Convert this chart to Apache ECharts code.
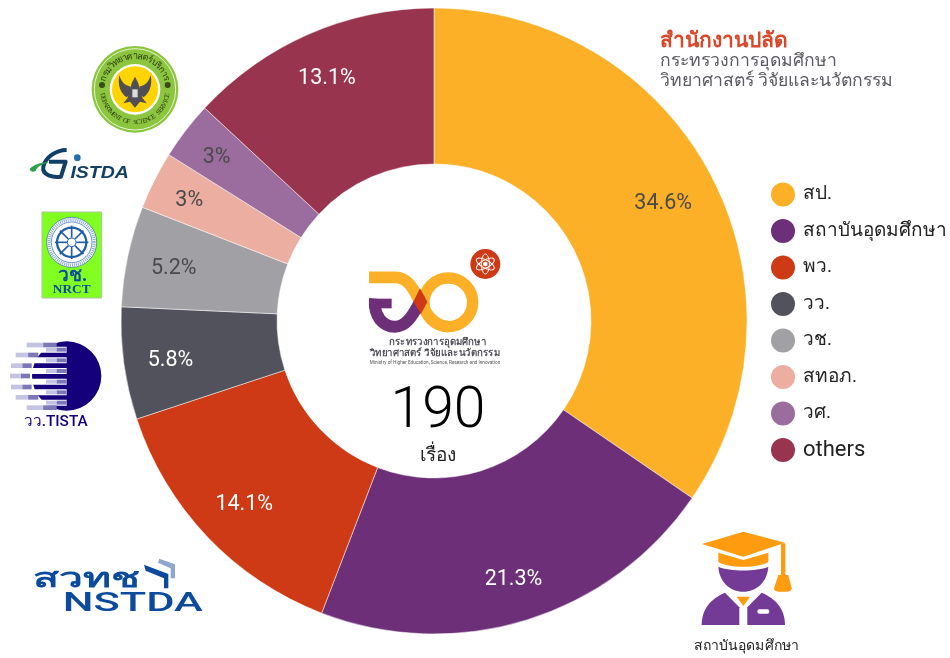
<!DOCTYPE html>
<html><head><meta charset="utf-8"><style>html,body{margin:0;padding:0;background:#fff}#c{width:950px;height:658px}</style>
<script src="https://cdn.jsdelivr.net/npm/echarts@6/dist/echarts.min.js"></script></head>
<body><div id="c"></div><script>
const categories=['สป.','สถาบันอุดมศึกษา','พว.','วว.','วช.','สทอภ.','วศ.','others'];
const shares=[34.6,21.3,14.1,5.8,5.2,3,3,13.1];
const shareLabels=['34.6%','21.3%','14.1%','5.8%','5.2%','3%','3%','13.1%'];
const colors=['#FBB027','#6D2F78','#CD3A15','#52525C','#A0A0A5','#EBAEA0','#9B6D9E','#98344E'];
const labelColors=['#4a4a4a','#fff','#fff','#fff','#4a4a4a','#4a4a4a','#4a4a4a','#fff'];
const labelPush=[21,30,24,28,28,36,36,30];
const totalCount='190', totalUnit='เรื่อง';
const FONT='Roboto, "Noto Sans", sans-serif';
const sum=shares.reduce((a,b)=>a+b,0);

let pathId=0;
function t(text,x,y,size,fill,extra){return {type:'text',x,y,silent:true,style:Object.assign({text,fontSize:size,fontFamily:FONT,fill,align:'center',verticalAlign:'middle'},extra||{})};}
function c(cx,cy,r,fill,extra){return {type:'circle',silent:true,shape:{cx,cy,r},style:Object.assign({fill},extra||{})};}
function r(x,y,width,height,fill){return {type:'rect',silent:true,shape:{x,y,width,height},style:{fill}};}
function p(d,fill,extra){const name='logoPath'+(pathId++);echarts.graphic.registerShape(name,echarts.graphic.extendPath(d,{}));return {type:name,silent:true,style:Object.assign({fill},extra||{})};}
function s(d,stroke,lineWidth){return p(d,'none',{stroke,lineWidth,lineJoin:'round',lineCap:'butt'});}
function g(x,y,children){return {type:'group',x,y,scaleX:1/3,scaleY:1/3,silent:true,children};}
function ringText(str,cx,cy,rad,a0,a1,size,fill,inward){
  const cl=str.match(/.[\u0E31\u0E34-\u0E3A\u0E47-\u0E4E]*/g);
  return cl.map((ch,i)=>{const a=a0+(a1-a0)*i/(cl.length-1);
    const rot=inward?-a:-a+Math.PI;
    return {type:'text',silent:true,x:cx+rad*Math.sin(a),y:cy-rad*Math.cos(a),rotation:rot,
      style:{text:ch,fontSize:size,fontFamily:'"Liberation Serif",serif',fill,align:'center',verticalAlign:'middle'}};});
}
const emblem=g(340,240,[
  s('M87 112 H165 C205 112 222 150 240 185 C258 220 280 258 325 260','#FBB027',35),
  c(325,187,73,'none',{stroke:'#FBB027',lineWidth:34}),
  s('M105 176 C100 230 130 260 165 260 C200 260 218 225 238 190','#6D2F78',36),
  r(87,176,68,29,'#6D2F78'),
  p('M240 145 L262 185 L243 222 L220 185 Z','#CD3A15'),
  c(436,72,45,'#CD3A15'),
  {type:'ellipse',silent:true,shape:{cx:436,cy:72,rx:30,ry:12},rotation:0.5,originX:436,originY:72,style:{fill:'none',stroke:'#fff',lineWidth:3}},
  {type:'ellipse',silent:true,shape:{cx:436,cy:72,rx:30,ry:12},rotation:-0.5,originX:436,originY:72,style:{fill:'none',stroke:'#fff',lineWidth:3}},
  {type:'ellipse',silent:true,shape:{cx:436,cy:72,rx:12,ry:30},style:{fill:'none',stroke:'#fff',lineWidth:3}},
  c(436,72,7,'#fff'),
  t('กระทรวงการอุดมศึกษา',292,307,29,'#4d4d55',{fontWeight:'bold'}),
  t('วิทยาศาสตร์ วิจัยและนวัตกรรม',285,340,29,'#4d4d55',{fontWeight:'bold'}),
  t('Ministry of Higher Education, Science, Research and Innovation',285,369,14,'#555')
]);
const seal=g(0,40,[
  c(405,148,130,'#8CC63F'),
  c(405,148,122,'none',{stroke:'#E8F3D0',lineWidth:3}),
  c(405,148,76,'#fff'),
  c(405,148,69,'#FFD400'),
  ...ringText('กรมวิทยาศาสตร์บริการ',405,148,99,-1.25,1.25,27,'#2b3a12',true),
  ...ringText('DEPARTMENT OF SCIENCE SERVICE',405,148,99,Math.PI*2-1.75,1.75,20,'#2b3a12',false),
  c(306,135,9,'#3a4a1a'),c(503,135,9,'#3a4a1a'),
  p('M358 105 C352 135 362 160 380 172 L392 160 L392 140 L378 135 C368 130 362 118 358 105 Z','#4f4f55'),
  p('M452 105 C458 135 448 160 430 172 L418 160 L418 140 L432 135 C442 130 448 118 452 105 Z','#4f4f55'),
  p('M405 110 L415 130 L420 150 L428 175 L440 190 L420 185 L405 203 L390 185 L370 190 L382 175 L390 150 L395 130 Z','#4f4f55'),
  p('M397 148 H413 V172 H397 Z','#dcdcdc')
]);
const gistda=g(25,145,[
  s('M125 15 C90 15 60 40 55 65 C50 92 85 98 108 95 L122 50 H72','#123F66',12),
  p('M14 72 C25 58 55 50 75 52 C55 56 35 65 32 78 C25 82 15 80 14 72 Z','#2BA24A'),
  c(157,38,10,'#1F6FB0'),
  {type:'text',silent:true,x:224,y:85,scaleX:1.17,style:{text:'ISTDA',fontSize:50,fontStyle:'italic',fontWeight:'bold',fontFamily:'"Liberation Sans",sans-serif',fill:'#123F66',align:'center',verticalAlign:'middle'}}
]);
const wheelSpokes=[];for(let i=0;i<8;i++){const a=i*Math.PI/4;wheelSpokes.push({type:'line',silent:true,shape:{x1:215+14*Math.cos(a),y1:607+14*Math.sin(a),x2:215+50*Math.cos(a),y2:607+50*Math.sin(a)},style:{stroke:'#1F5FA8',lineWidth:5}});}
const nrct=g(0,40,[
  {type:'rect',silent:true,shape:{x:126,y:516,width:179,height:258},style:{fill:'#80FF20',stroke:'#a9c59a',lineWidth:3}},
  c(215,607,75,'#fff',{stroke:'#1F5FA8',lineWidth:2}),
  c(215,607,68,'none',{stroke:'#8aa8cf',lineWidth:9,lineDash:[3,3]}),
  c(215,607,61,'#fff',{stroke:'#1F5FA8',lineWidth:2}),
  c(215,607,44,'none',{stroke:'#1F5FA8',lineWidth:7}),
  ...wheelSpokes,c(215,607,13,'#fff',{stroke:'#1F5FA8',lineWidth:3}),
  t('วช.',218,708,58,'#0B4CA0',{fontWeight:'bold'}),
  t('NRCT',215,750,40,'#0B4CA0',{fontWeight:'bold',fontFamily:'"Liberation Serif",serif'})
]);
const rightRows=[59,91,123,155,187,218], leftRows=[[45,80,170],[75,47,115],[107,33,95],[138,30,90],[171,33,95],[202,47,115],[233,80,170]];
const tista=g(0,330,[
  c(200,138,104,'#14007A'),
  ...rightRows.map(y=>r(90,y-9,110,18,'#fff')),
  ...leftRows.map(([y,a,b])=>r(a,y-7,(b-a)*0.55,14,'#C3C4E2')),
  ...leftRows.map(([y,a,b])=>r(a+(b-a)*0.55,y-7,(b-a)*0.45,14,'#7C78B8')),
  ...rightRows.map(y=>r(138,y-6,32,12,'#C3C4E2')),
  ...rightRows.map(y=>r(170,y-6,30,12,'#7C78B8')),
  t('วว.TISTA',168,277,46,'#14007A',{fontWeight:'500'})
]);
const nstda=g(0,330,[
  {type:'text',silent:true,x:99,y:752,scaleX:1.6,style:{text:'สวทช',fontSize:80,fontFamily:FONT,fontWeight:'bold',fill:'#0B4A9C',align:'left',verticalAlign:'middle'}},
  {type:'text',silent:true,x:188,y:823,scaleX:1.67,style:{text:'NSTDA',fontSize:78,fontFamily:'Roboto',fontWeight:'500',fill:'#0B4A9C',align:'left',verticalAlign:'middle'}},
  p('M432 704 L505 732 V775 L492 775 V745 L437 722 Z','#0B4A9C'),
  p('M478 686 L525 703 V745 L512 745 V715 L474 698 Z','#8EA7CF')
]);
const student=g(680,520,[
  p('M66 72 L190 35 L315 68 L190 110 Z','#FF9B0F'),
  p('M115 98 L190 120 L265 98 V125 C240 145 140 145 115 125 Z','#FF9B0F'),
  r(303,70,13,100,'#FF9B0F'),
  p('M295 165 H325 L335 205 Q335 215 322 215 H295 Q282 215 282 205 Z','#FF9B0F'),
  p('M115 140 C150 155 230 155 265 140 C262 185 230 215 190 215 C150 215 118 185 115 140 Z','#733A96'),
  p('M65 315 C65 265 95 235 135 218 L178 262 V315 Z','#733A96'),
  p('M315 315 C315 265 285 235 245 218 L202 262 V315 Z','#733A96'),
  p('M170 230 H210 L190 258 Z','#FF9B0F'),
  {type:'rect',silent:true,shape:{x:232,y:268,width:36,height:13,r:6},style:{fill:'#fff'}},
  t('สถาบันอุดมศึกษา',200,380,42,'#222')
]);
const chart=echarts.init(document.getElementById('c'),null,{renderer:'canvas'});
chart.setOption({
  animation:false,
  color:colors,
  legend:{orient:'vertical',left:769,top:180.5,padding:0,itemWidth:26,itemHeight:26,itemGap:8.5,icon:'circle',selectedMode:false,
    formatter:n=>n==='others'?`{en|${n}}`:`{th|${n}}`,
    textStyle:{fontSize:22,lineHeight:22,fontFamily:FONT,color:'#222',
      rich:{en:{fontSize:22,lineHeight:22,fontFamily:FONT,color:'#222',padding:[0,0,0,2]},th:{fontSize:19,lineHeight:22,fontFamily:FONT,color:'#222',padding:[0,0,0,2]}}},
    data:categories},
  series:[{type:'pie',center:[434,321],radius:[157,313],startAngle:90,avoidLabelOverlap:false,silent:true,
    itemStyle:{borderColor:'#fff',borderWidth:0.5},
    labelLine:{show:false},
    label:{show:true,position:'inside',fontSize:21.5,fontFamily:FONT,formatter:q=>shareLabels[q.dataIndex]},
    labelLayout:q=>{let before=0;for(let i=0;i<q.dataIndex;i++)before+=shares[i];
      const a=(before+shares[q.dataIndex]/2)/sum*2*Math.PI,d=labelPush[q.dataIndex];return {dx:d*Math.sin(a),dy:-d*Math.cos(a)+3};},
    data:categories.map((name,i)=>({name,value:shares[i],label:{color:labelColors[i]}}))}],
  graphic:{elements:[
    t('สำนักงานปลัด',660,42,21,'#D9482B',{fontWeight:'bold',align:'left'}),
    t('กระทรวงการอุดมศึกษา',660,62,17.6,'#5a5a62',{align:'left'}),
    t('วิทยาศาสตร์ วิจัยและนวัตกรรม',660,82,17.6,'#5a5a62',{align:'left'}),
    t(totalCount,438,413,57,'#000',{fontFamily:'Roboto',fontWeight:300}),
    t(totalUnit,438,456,19,'#222'),
    emblem,seal,gistda,nrct,tista,nstda,student
  ]}
});
</script></body></html>
